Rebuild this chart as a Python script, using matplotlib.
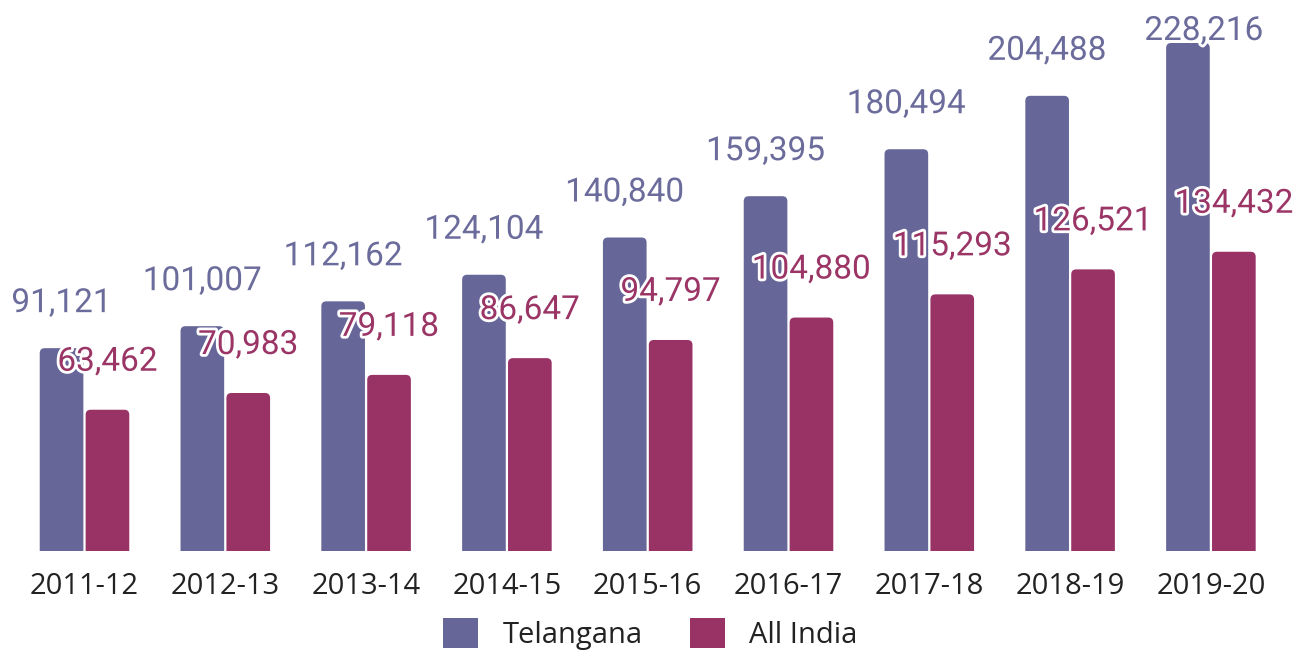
import matplotlib
matplotlib.use("Agg")
import matplotlib.pyplot as plt
import matplotlib.patheffects as pe
from matplotlib.patches import FancyBboxPatch, Patch
import numpy as np

years = ["2011-12", "2012-13", "2013-14", "2014-15", "2015-16",
         "2016-17", "2017-18", "2018-19", "2019-20"]
telangana = [91121, 101007, 112162, 124104, 140840, 159395, 180494, 204488, 228216]
all_india = [63462, 70983, 79118, 86647, 94797, 104880, 115293, 126521, 134432]
series_names = ["Telangana", "All India"]

c_tel = "#666699"
c_ai = "#993366"
c_tel_lbl = "#6c6c9c"
c_ai_lbl = "#9a3566"

W, H = 1301, 651
fig = plt.figure(figsize=(W / 100, H / 100), dpi=100)
base_px = 551
ax = fig.add_axes([0, (H - base_px) / H, 1, base_px / H])

px_per_x = 140.8
px_per_y = 508 / 228216
ymax = base_px / px_per_y
ax.set_xlim(-84.5 / px_per_x, (W - 84.5) / px_per_x)
ax.set_ylim(0, ymax)

x = np.arange(len(years))
bw = 0.31
off = 0.163

# rounded-top bars built from the library's bar rectangles
r_px = 5
rs = r_px / px_per_x
aspect = (r_px / px_per_y) / rs
for vals, pos, col in [(telangana, x - off, c_tel), (all_india, x + off, c_ai)]:
    bars = ax.bar(pos, vals, bw, color=col)
    for rect in bars:
        rect.set_visible(False)
        bx, by = rect.get_x(), rect.get_y()
        bwid, bh = rect.get_width(), rect.get_height()
        extra = 3 * r_px / px_per_y
        p = FancyBboxPatch((bx, by - extra), bwid, bh + extra,
                           boxstyle=f"round,pad=0,rounding_size={rs}",
                           mutation_aspect=aspect, facecolor=col,
                           edgecolor="none", zorder=2, clip_on=True)
        ax.add_patch(p)

PT = 100 / 72

def label_offset(v, normal_px):
    top_px = base_px - v * px_per_y
    avail = top_px - 40
    if avail < normal_px:
        return (16 / PT, avail / PT)
    return (0, normal_px / PT)

for xi, v in zip(x, telangana):
    t = ax.annotate(f"{v:,}", (xi - off, v), xytext=label_offset(v, 36),
                    textcoords="offset points", ha="center", va="baseline",
                    fontsize=24, family="Roboto", color=c_tel_lbl, zorder=3)
    t.set_path_effects([pe.withStroke(linewidth=4, foreground="white")])
for xi, v in zip(x, all_india):
    t = ax.annotate(f"{v:,}", (xi + off, v), xytext=label_offset(v, 39),
                    textcoords="offset points", ha="center", va="baseline",
                    fontsize=24, family="Roboto", color=c_ai_lbl, zorder=4)
    t.set_path_effects([pe.withStroke(linewidth=4, foreground="white")])

ax.set_xticks(x)
ax.set_xticklabels(years, fontsize=21, family="Open Sans", color="#222222")
ax.tick_params(axis="x", length=0, pad=15)
ax.set_yticks([])
for s in ax.spines.values():
    s.set_visible(False)

handles = [Patch(facecolor=c_tel, edgecolor="none"), Patch(facecolor=c_ai, edgecolor="none")]
leg = fig.legend(handles, series_names, loc="center",
                 bbox_to_anchor=(0.5, 17 / H), ncol=2, frameon=False,
                 prop={"family": "Open Sans", "size": 21},
                 handlelength=1.2, handleheight=1.2, handletextpad=0.85,
                 columnspacing=1.6, borderaxespad=0, borderpad=0)
for t in leg.get_texts():
    t.set_color("#222222")

fig.savefig("out.png", dpi=100)
